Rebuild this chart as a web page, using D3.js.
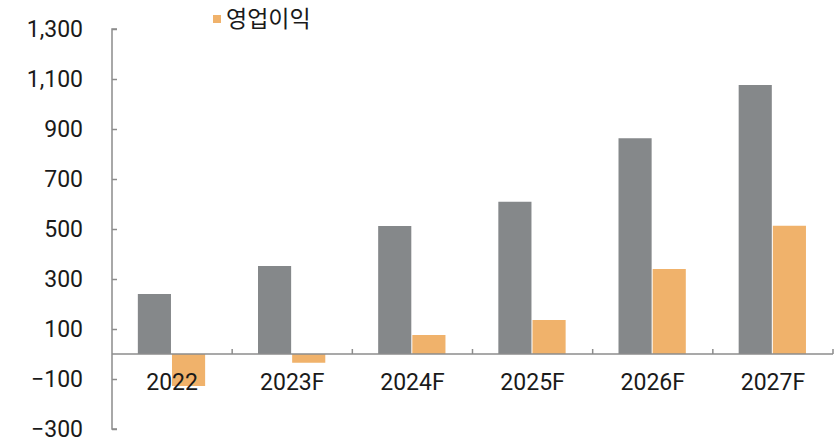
<!DOCTYPE html>
<html><head><meta charset="utf-8">
<script src="https://cdn.jsdelivr.net/npm/d3@7"></script>
<style>body{margin:0;background:#fff}svg{display:block}text{font-family:Roboto,"Noto Sans CJK KR",sans-serif}</style>
</head><body><svg id="c" width="840" height="439"></svg>
<script>
const categories = ["2022","2023F","2024F","2025F","2026F","2027F"];
const series = ["매출액","영업이익"];
const revenue = [240, 352, 512, 609, 863, 1076];
const opProfit = [-128, -35, 76, 136, 340, 513];
const yTicks = [1300,1100,900,700,500,300,100,-100,-300];
const colors = ["#85888a","#f0b26b"];

(function(){
const svg = d3.select("#c");
const mL = 112, mR = 833, mT = 29, mB = 429;
const y = d3.scaleLinear().domain([-300,1300]).range([mB, mT]);
const x0 = d3.scaleBand().domain(categories).range([mL, mR]).padding(0);
const step = x0.bandwidth();
const x1 = d3.scaleBand().domain(series).range([step*0.215, step*0.775]).paddingInner(0.03);
const vals = [revenue, opProfit];

series.forEach((s, si) => {
  svg.append("g").selectAll("rect").data(vals[si]).join("rect")
    .attr("x", (d,i) => x0(categories[i]) + x1(s))
    .attr("width", x1.bandwidth())
    .attr("y", d => y(Math.max(0,d)))
    .attr("height", d => Math.abs(y(d) - y(0)))
    .attr("fill", colors[si]);
});

const fmt = v => (v < 0 ? "\u2212" : "") + d3.format(",")(Math.abs(v));
const ya = d3.axisRight(y).tickValues(yTicks).tickSize(5).tickFormat("");
const yg = svg.append("g").attr("transform", `translate(${mL},0)`).call(ya);
yg.selectAll("line,path").attr("stroke","#8c8c8c").attr("stroke-width",1.5);
yg.select(".domain").attr("d", `M5,${mT}H0V${mB}H5`);
svg.append("g").selectAll("text").data(yTicks).join("text")
  .attr("x", 83).attr("y", d => y(d)).attr("dy","0.35em")
  .attr("text-anchor","end").attr("font-size",23).attr("fill","#1a1a1a")
  .text(fmt);

const xg = svg.append("g").attr("transform", `translate(0,${y(0)})`);
xg.append("line").attr("x1", mL).attr("x2", mR).attr("stroke","#8c8c8c").attr("stroke-width",1.5);
xg.selectAll("line.t").data(categories).join("line").attr("class","t")
  .attr("x1", d => x0(d)+step).attr("x2", d => x0(d)+step)
  .attr("y1", 0).attr("y2", -5).attr("stroke","#8c8c8c").attr("stroke-width",1.5);
xg.selectAll("text").data(categories).join("text")
  .attr("x", d => x0(d)+step/2).attr("y", 28).attr("dy","0.35em")
  .attr("text-anchor","middle").attr("font-size",23).attr("fill","#1a1a1a").text(d=>d);

const lg = svg.append("g");
lg.append("rect").attr("x",213).attr("y",15).attr("width",8).attr("height",8).attr("fill",colors[1]);
lg.append("text").attr("x",226).attr("y",19).attr("dy","0.35em").attr("font-size",23).attr("fill","#1a1a1a").text(series[1]);
})();
</script></body></html>
